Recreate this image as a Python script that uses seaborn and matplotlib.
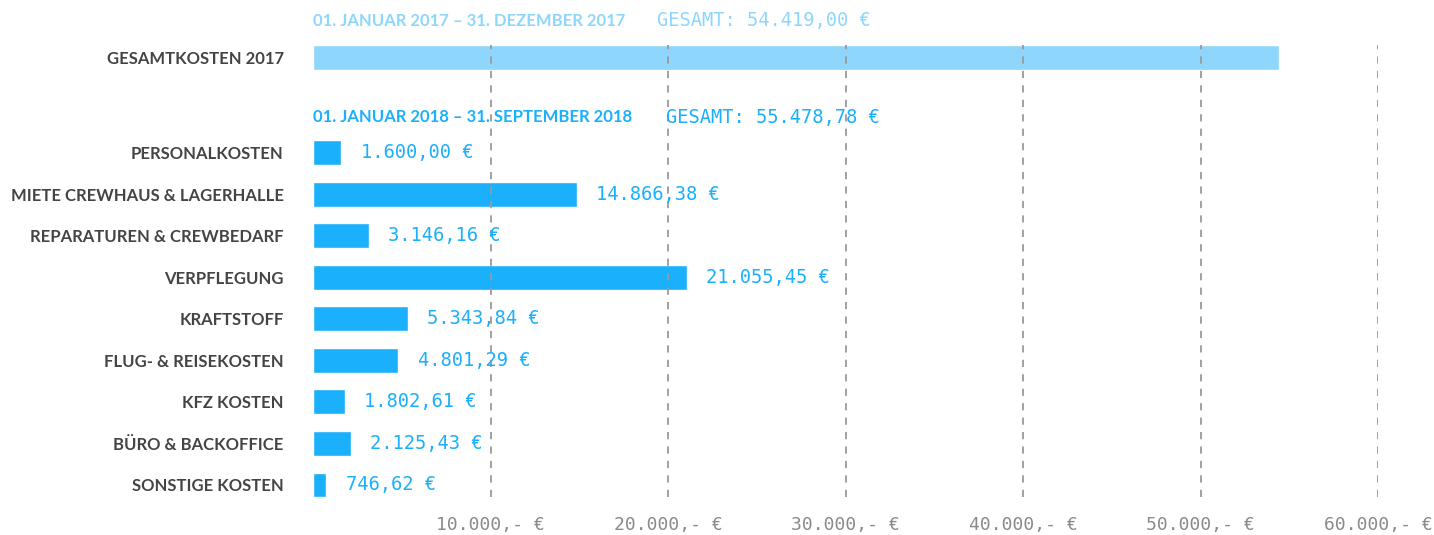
import numpy as np
import pandas as pd
import seaborn as sns
import matplotlib.pyplot as plt

# --- data ---
categories = [
    "PERSONALKOSTEN",
    "MIETE CREWHAUS & LAGERHALLE",
    "REPARATUREN & CREWBEDARF",
    "VERPFLEGUNG",
    "KRAFTSTOFF",
    "FLUG- & REISEKOSTEN",
    "KFZ KOSTEN",
    "BÜRO & BACKOFFICE",
    "SONSTIGE KOSTEN",
]
costs_2018 = [1600.00, 14866.38, 3146.16, 21055.45, 5343.84, 4801.29, 1802.61, 2125.43, 746.62]
total_label_2017 = "GESAMTKOSTEN 2017"
total_2017 = 54419.00
total_2018_text = "55.478,78 €"  # as printed in the original
period_2017 = "01. JANUAR 2017 – 31. DEZEMBER 2017"
period_2018 = "01. JANUAR 2018 – 31. SEPTEMBER 2018"
x_ticks = [10000, 20000, 30000, 40000, 50000, 60000]

BLUE = "#1ab0fc"
LIGHT_BLUE = "#8fd6fd"
LABEL_GREY = "#444444"
TICK_GREY = "#8a8a8a"
SANS = ["Lato", "DejaVu Sans"]
MONO = ["DejaVu Sans Mono"]


def fmt_eur(v):
    s = f"{v:,.2f}".replace(",", "X").replace(".", ",").replace("X", ".")
    return s + " €"


def fmt_tick(v):
    return f"{int(v):,}".replace(",", ".") + ",- €"


# numeric y positions: 2017 bar sits above the 2018 block with a gap
y_2017 = -2.3
df = pd.DataFrame({
    "label": [total_label_2017] + categories,
    "value": [total_2017] + costs_2018,
    "pos": [y_2017] + list(range(len(categories))),
    "period": ["2017"] + ["2018"] * len(categories),
})

sns.set_theme(style="white")
plt.rcParams["font.family"] = SANS

fig = plt.figure(figsize=(14.34, 5.35), dpi=100)
ax = fig.add_axes([313 / 1434, 1 - 497 / 535, (1378 - 313) / 1434, (497 - 45) / 535])

sns.barplot(data=df, x="value", y="pos", hue="period", orient="y", native_scale=True,
            palette={"2017": LIGHT_BLUE, "2018": BLUE}, width=0.6, dodge=False,
            legend=False, ax=ax, saturation=1)

ax.set_xlim(0, 60000)
ax.set_ylim(len(categories) - 1 + 0.29, y_2017 - 0.3)
ax.set_yticks(df["pos"].tolist())
ax.set_yticklabels(df["label"].tolist(), fontsize=12, fontweight="bold",
                   color=LABEL_GREY, family=SANS)
ax.set_xticks(x_ticks)
ax.set_xticklabels([fmt_tick(t) for t in x_ticks], family=MONO, fontsize=13, color=TICK_GREY)
ax.tick_params(axis="y", length=0, pad=21)
ax.tick_params(axis="x", length=0, pad=14)
ax.set_xlabel("")
ax.set_ylabel("")
for s in ax.spines.values():
    s.set_visible(False)

ax.set_axisbelow(False)
ax.xaxis.grid(True, linestyle=(0, (4, 4)), color="#9a9a9a", linewidth=1.3)

# value labels for 2018 bars
for pos, val in zip(range(len(categories)), costs_2018):
    ax.annotate(fmt_eur(val), (val, pos), xytext=(14, 0), textcoords="offset points",
                va="center", ha="left", family=MONO, fontsize=13.5, color=BLUE)

# period headers
ax.annotate(period_2017, (0, y_2017 - 0.88), va="center", ha="left", fontsize=12,
            fontweight="bold", color=LIGHT_BLUE, family=SANS, annotation_clip=False)
ax.annotate("GESAMT: " + fmt_eur(total_2017), (19400, y_2017 - 0.88), va="center", ha="left",
            family=MONO, fontsize=13.5, color=LIGHT_BLUE, annotation_clip=False)
ax.annotate(period_2018, (0, -0.86), va="center", ha="left", fontsize=12,
            fontweight="bold", color=BLUE, family=SANS)
ax.annotate("GESAMT: " + total_2018_text, (19900, -0.86), va="center", ha="left",
            family=MONO, fontsize=13.5, color=BLUE)

fig.savefig("out.png", dpi=100)
